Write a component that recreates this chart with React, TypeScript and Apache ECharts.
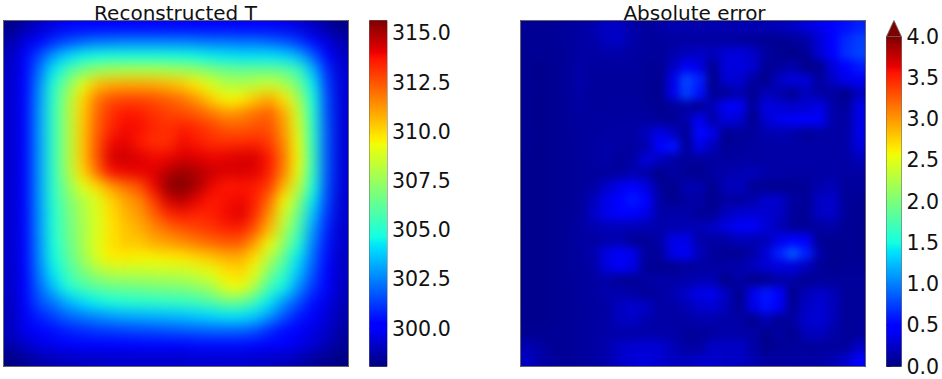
import React, { useEffect, useRef } from "react";
import * as echarts from "echarts";

const titles = ["Reconstructed T", "Absolute error"];
const tempTicks = [300, 302.5, 305, 307.5, 310, 312.5, 315];
const errorTicks = [0, 0.5, 1, 1.5, 2, 2.5, 3, 3.5, 4];
const tempRange = [298.07, 315.66];
const errorRange = [0, 4];

const temperatureRows = [
  [298.2,298.7,299.2,299.6,299.9,300,300,300.1,300.1,300.1,300.2,300.2,300.2,300.1,300.1,300,300,300,299.9,299.8,299.5,299.1,298.6,298.2],
  [298.7,299.5,300.3,301,301.6,302,302.3,302.4,302.5,302.5,302.5,302.5,302.5,302.4,302.3,302.3,302.2,302.2,302,301.7,301.2,300.4,299.5,298.8],
  [299,300,301.5,303,304,304.5,304.7,304.8,304.8,304.8,304.8,304.8,304.7,304.6,304.4,304.3,304.2,304.2,304.2,304,303.4,302,300.3,299.1],
  [299.1,300.2,302.2,304.3,305.8,306.8,307.5,307.8,308,308,308,307.9,307.7,307.4,307,306.6,306.5,306.5,306.5,306.3,305.5,303.5,301,299.3],
  [299.2,300.3,302.6,305,307,309,310.5,310.9,311,311,310.9,310.7,310.3,309.7,308.9,308.1,308,308.3,308.6,308,306.7,304.4,301.3,299.4],
  [299.2,300.3,302.8,305.2,307.7,310,311.8,312.6,312.8,312.8,312.6,312.3,311.9,311.2,310.2,309.5,309.6,310.4,311,309.8,307.8,304.8,301.5,299.4],
  [299.2,300.3,302.9,305.3,307.8,310.2,312.1,313.2,313.7,313.6,313.2,312.9,312.7,312.4,311.9,311.3,311.5,312,312.3,310.9,308.6,305,301.6,299.4],
  [299.2,300.3,302.9,305.3,307.8,310.3,312.2,313.4,313.9,313.8,313.4,313.2,313.6,313.3,312.9,312.5,312.4,312.6,312.6,311.2,308.9,305.2,301.7,299.4],
  [299.2,300.3,302.9,305.3,307.8,310.3,312.4,313.9,314.1,313.6,313.2,313.2,313.9,313.6,313.3,313.2,313.3,313.4,313,311.5,309.2,305.3,301.7,299.4],
  [299.2,300.3,302.9,305.3,307.8,310.3,312.5,314.3,314.5,314.2,313.9,314,314.3,314.2,314,314.1,314.3,314.3,313.6,311.8,309.4,305.4,301.7,299.4],
  [299.2,300.3,302.9,305.3,307.7,310,312,313.8,314,314.1,314.2,314.8,315.2,314.9,314.5,314.3,314.3,314.2,313.5,311.6,309.2,305.3,301.7,299.4],
  [299.2,300.3,302.9,305.2,307.2,309,310,311.2,312,312.6,314,315.4,315.6,315,314,313.6,313.7,313.6,313,310.7,308.4,304.9,301.6,299.4],
  [299.2,300.3,302.9,305.1,306.8,308,308.9,310.1,311,311.6,313,314.4,314.8,314,313.6,313.8,314,313.5,312,309.5,307.3,304.3,301.4,299.3],
  [299.2,300.3,302.8,304.9,306.6,307.8,308.9,309.9,310.7,311.2,312.2,313.3,313.6,313.4,313.5,313.9,314.2,313.2,311.3,308.7,306.4,303.6,301.1,299.3],
  [299.2,300.3,302.8,304.9,306.5,307.7,308.8,309.8,310.4,310.8,311.5,312,312.5,312.8,313.1,313.4,313.5,312.4,310.6,308,305.8,303,300.8,299.2],
  [299.2,300.3,302.7,304.8,306.3,307.7,309,309.8,310.3,310.3,310.8,311,311.3,311.7,312,312.3,312.2,311,309.3,307.2,305,302.5,300.6,299.2],
  [299.2,300.3,302.6,304.6,306.1,307.4,308.8,309.6,309.6,309.5,309.5,309.6,309.7,310,310.3,310.7,310.8,309.8,308,306.2,304.2,302.1,300.4,299.1],
  [299.1,300.2,302.4,304.3,305.6,306.7,307.6,308.1,308.2,308.2,308.3,308.3,308.4,308.7,309.1,309.8,310,309,306.8,305.3,303.6,301.7,300.2,299.1],
  [299.1,300.1,302,303.6,304.9,305.7,306.2,306.5,306.6,306.7,306.8,306.9,307,307.3,307.8,309,309.3,307.8,305.6,304.5,302.8,301.2,300,299],
  [299,300,301.6,302.4,303.4,304.1,304.5,304.8,305,305.1,305.2,305.3,305.4,305.6,306,306.6,306.5,305.5,304.3,302.9,301.7,300.5,299.7,298.9],
  [298.9,299.9,300.8,301.4,302,302.4,302.7,303,303.2,303.3,303.4,303.5,303.6,303.8,304,304.2,304.2,303.8,302.9,301.7,300.7,300,299.4,298.8],
  [299,299.7,300.1,300.5,300.8,301,301.2,301.3,301.4,301.5,301.6,301.7,301.8,301.9,302,302,302,301.7,301,300.4,300,299.6,299.2,298.6],
  [298.7,299.2,299.6,299.8,300,300,300.1,300.2,300.2,300.3,300.3,300.3,300.3,300.4,300.4,300.4,300.4,300.3,300.1,300,299.7,299.3,298.9,298.4],
  [298.1,298.4,298.7,298.9,299,299.1,299.1,299.2,299.2,299.2,299.2,299.2,299.2,299.3,299.3,299.3,299.3,299.2,299.1,299,298.8,298.5,298.3,298.1],
];

const errorRows = [
  [.08,.07,.08,.1,.12,.16,.24,.24,.14,.1,.14,.17,.17,.17,.17,.17,.18,.18,.18,.2,.24,.32,.38,.46,.55,.62],
  [.08,.07,.08,.1,.13,.14,.22,.24,.15,.1,.1,.12,.12,.12,.12,.12,.1,.09,.07,.07,.1,.14,.3,.5,.66,.74],
  [.07,.07,.08,.09,.13,.12,.15,.15,.13,.1,.1,.15,.22,.24,.2,.3,.32,.26,.12,.07,.04,.08,.3,.5,.68,.76],
  [.07,.05,.07,.09,.14,.11,.11,.11,.11,.09,.08,.22,.42,.34,.08,.32,.34,.28,.08,.1,.16,.05,.05,.32,.5,.6],
  [.07,.05,.07,.09,.16,.1,.1,.1,.1,.09,.05,.36,.76,.62,.05,.28,.28,.12,.05,.24,.32,.3,.1,.24,.38,.4],
  [.07,.05,.07,.09,.14,.1,.1,.1,.1,.09,.05,.36,.74,.56,.08,.1,.18,.07,.2,.16,.08,.22,.14,.12,.05,.22],
  [.07,.05,.07,.09,.12,.1,.1,.11,.11,.09,.07,.09,.14,.08,.2,.42,.42,.08,.34,.3,.26,.28,.36,.15,.09,.36],
  [.07,.05,.07,.09,.11,.11,.11,.12,.12,.12,.09,.08,.15,.4,.15,.32,.28,.06,.28,.38,.42,.44,.42,.16,.12,.36],
  [.07,.05,.07,.09,.1,.11,.13,.13,.13,.22,.36,.24,.08,.52,.36,.06,.1,.1,.16,.18,.16,.08,.12,.13,.13,.36],
  [.07,.05,.07,.08,.1,.12,.15,.12,.12,.16,.5,.56,.1,.36,.2,.08,.11,.12,.14,.14,.14,.14,.14,.14,.14,.32],
  [.06,.05,.07,.08,.1,.12,.15,.09,.13,.32,.22,.14,.1,.1,.12,.12,.12,.13,.13,.14,.14,.14,.14,.14,.14,.2],
  [.06,.05,.07,.08,.1,.1,.1,.12,.18,.14,.05,.12,.08,.06,.12,.16,.18,.2,.16,.14,.13,.13,.14,.14,.12,.13],
  [.06,.05,.07,.08,.1,.13,.26,.38,.46,.34,.1,.05,.17,.17,.06,.2,.22,.09,.06,.06,.07,.09,.16,.2,.09,.1],
  [.06,.05,.07,.08,.1,.2,.36,.48,.58,.48,.14,.05,.12,.14,.06,.12,.12,.16,.26,.26,.13,.08,.24,.26,.09,.08],
  [.06,.05,.07,.08,.1,.24,.38,.48,.48,.36,.15,.15,.15,.09,.08,.22,.28,.3,.28,.24,.1,.08,.24,.26,.09,.07],
  [.06,.05,.07,.08,.12,.17,.2,.2,.2,.18,.16,.16,.18,.18,.24,.34,.42,.42,.3,.2,.1,.08,.12,.14,.08,.07],
  [.06,.05,.07,.09,.12,.12,.15,.16,.08,.08,.14,.36,.36,.16,.14,.14,.2,.18,.2,.36,.5,.42,.08,.07,.07,.07],
  [.06,.05,.07,.09,.11,.16,.34,.42,.36,.1,.1,.36,.42,.2,.1,.08,.08,.14,.3,.62,.82,.62,.15,.06,.07,.07],
  [.06,.05,.07,.09,.1,.14,.32,.42,.34,.08,.07,.07,.1,.12,.13,.14,.16,.22,.28,.32,.32,.22,.09,.06,.08,.08],
  [.06,.05,.07,.08,.1,.12,.14,.08,.08,.13,.14,.14,.15,.18,.18,.05,.14,.05,.07,.14,.14,.07,.1,.1,.1,.1],
  [.06,.05,.07,.08,.1,.12,.16,.17,.14,.09,.13,.17,.26,.36,.38,.22,.05,.38,.58,.44,.05,.2,.26,.2,.09,.1],
  [.06,.05,.07,.08,.1,.11,.12,.22,.28,.24,.12,.14,.18,.26,.28,.2,.08,.34,.55,.4,.08,.24,.3,.22,.09,.1],
  [.06,.05,.07,.08,.1,.11,.14,.22,.24,.17,.13,.13,.13,.16,.16,.14,.14,.05,.18,.07,.12,.26,.3,.2,.09,.1],
  [.07,.07,.08,.08,.1,.12,.14,.15,.15,.15,.15,.14,.1,.1,.12,.15,.15,.14,.05,.13,.06,.2,.22,.15,.09,.1],
  [.18,.13,.08,.08,.1,.12,.16,.24,.28,.3,.28,.2,.12,.12,.24,.24,.24,.14,.05,.08,.1,.1,.1,.1,.1,.24],
  [.24,.15,.1,.09,.1,.12,.16,.24,.3,.32,.28,.22,.22,.26,.26,.24,.24,.18,.12,.12,.12,.13,.14,.18,.26,.44],
];

// matplotlib "jet" colour stops
const jetStops: [number, string][] = [
  [0, "#00007f"], [0.11, "#0000ff"], [0.125, "#0000ff"], [0.34, "#00dbff"], [0.35, "#00e5f7"],
  [0.375, "#14ffe2"], [0.64, "#eeff08"], [0.65, "#f7f500"], [0.66, "#ffec00"], [0.89, "#ff1300"],
  [0.91, "#e80000"], [1, "#7f0000"],
];

function hexRgb(h: string) {
  return [1, 3, 5].map((i) => parseInt(h.slice(i, i + 2), 16));
}
function jetAt(t: number) {
  for (let i = 1; i < jetStops.length; i++) {
    if (t <= jetStops[i][0]) {
      const [a, ca] = jetStops[i - 1];
      const [b, cb] = jetStops[i];
      const k = (t - a) / (b - a);
      const p = hexRgb(ca), q = hexRgb(cb);
      return `rgb(${p.map((v, n) => Math.round(v + (q[n] - v) * k)).join(",")})`;
    }
  }
  return jetStops[jetStops.length - 1][1];
}
const jetColors = Array.from({ length: 129 }, (_, i) => jetAt(i / 128));
const frameColor = "#666666";
const fontFamily = "DejaVu Sans";

function heatOption(rows: number[][], range: number[]) {
  const cols = rows[0].map((_, i) => String(i));
  const ys = rows.map((_, i) => String(i));
  return {
    animation: false,
    grid: { left: 0, top: 0, right: 0, bottom: 0 },
    xAxis: { type: "category", data: cols, show: false },
    yAxis: { type: "category", data: ys, show: false, inverse: true },
    visualMap: { show: false, min: range[0], max: range[1], inRange: { color: jetColors }, seriesIndex: 0 },
    series: [{
      type: "heatmap",
      silent: true,
      progressive: 0,
      data: rows.flatMap((r, y) => r.map((v, x) => [x, y, v])),
      itemStyle: { borderWidth: 0 },
    }],
  };
}

function barItem(arrow: boolean) {
  return (_p: any, api: any) => {
    const a = api.coord([0, api.value(0)]);
    const b = api.coord([1, api.value(1)]);
    const children: any[] = [{
      type: "rect",
      shape: { x: a[0], y: b[1], width: b[0] - a[0], height: a[1] - b[1] },
      style: {
        fill: new echarts.graphic.LinearGradient(0, 1, 0, 0, jetStops.map(([offset, color]) => ({ offset, color }))),
      },
    }];
    if (arrow) {
      const tip = api.coord([0.5, api.value(1) * 1.0485]);
      children.push({
        type: "polygon",
        shape: { points: [[a[0], b[1]], [tip[0], tip[1]], [b[0], b[1]]] },
        style: { fill: "#7f0000", stroke: frameColor, lineWidth: 0.8 },
      });
    }
    return { type: "group", children };
  };
}

function overlayOption() {
  const grids = [
    { left: 3.5, top: 20.5, width: 345, height: 346 },
    { left: 520.5, top: 20.5, width: 345, height: 346 },
    { left: 369.5, top: 20.5, width: 17.5, height: 346 },
    { left: 886.5, top: 36.5, width: 17, height: 330 },
  ];
  const hidden = (i: number) => ({ type: "value", show: false, min: 0, max: 1, gridIndex: i });
  const barAxis = (i: number, range: number[], ticks: number[]) => ({
    type: "value",
    gridIndex: i,
    position: "right",
    min: range[0],
    max: range[1],
    splitLine: { show: false },
    axisLine: { show: false },
    axisTick: { show: true, length: 4, customValues: ticks, lineStyle: { color: "#222", width: 1 } },
    axisLabel: {
      show: true,
      customValues: ticks,
      margin: 5,
      color: "#111",
      fontSize: 20.5,
      fontFamily,
      formatter: (v: number) => v.toFixed(1),
      hideOverlap: false,
      showMinLabel: true,
      showMaxLabel: true,
    },
  });
  const titleText = (text: string, x: number) => ({
    type: "text",
    x,
    y: 23,
    silent: true,
    style: { text, textAlign: "center", textVerticalAlign: "bottom", fontSize: 20, fontFamily, fill: "#111" },
  });
  return {
    animation: false,
    graphic: [titleText(titles[0], 175.5), titleText(titles[1], 694.5)],
    grid: grids.map((g) => ({ ...g, show: true, borderColor: frameColor, borderWidth: 1, backgroundColor: "transparent", containLabel: false })),
    xAxis: [hidden(0), hidden(1), hidden(2), hidden(3)],
    yAxis: [hidden(0), hidden(1), barAxis(2, tempRange, tempTicks), barAxis(3, errorRange, errorTicks)],
    series: [
      { type: "custom", xAxisIndex: 2, yAxisIndex: 2, silent: true, clip: false, z: 1, renderItem: barItem(false), data: [tempRange], encode: { y: [0, 1] } },
      { type: "custom", xAxisIndex: 3, yAxisIndex: 3, silent: true, clip: false, z: 1, renderItem: barItem(true), data: [errorRange], encode: { y: [0, 1] } },
    ],
  };
}

function Chart({ option, style }: { option: () => any; style: React.CSSProperties }) {
  const ref = useRef<HTMLDivElement>(null);
  useEffect(() => {
    const chart = echarts.init(ref.current!, undefined, { renderer: "svg" });
    chart.setOption(option());
    return () => chart.dispose();
  }, [option]);
  return <div ref={ref} style={{ position: "absolute", ...style }} />;
}

const tempOption = () => heatOption(temperatureRows, tempRange);
const errorOption = () => heatOption(errorRows, errorRange);

function Smooth({ id, sd }: { id: string; sd: number }) {
  return (
    <filter id={id} x="0" y="0" width="100%" height="100%" colorInterpolationFilters="sRGB">
      <feGaussianBlur stdDeviation={sd} />
      <feComponentTransfer>
        <feFuncA type="table" tableValues="1 1" />
      </feComponentTransfer>
    </filter>
  );
}

export default function App() {
  return (
    <div style={{ position: "absolute", left: 0, top: 0, width: 942, height: 379, overflow: "hidden", background: "#fff" }}>
      <svg width="0" height="0" style={{ position: "absolute" }}>
        <defs>
          <Smooth id="smoothT" sd={6.5} />
          <Smooth id="smoothE" sd={4.2} />
        </defs>
      </svg>
      <Chart option={tempOption} style={{ left: 3, top: 20, width: 346, height: 347, filter: "url(#smoothT)" }} />
      <Chart option={errorOption} style={{ left: 520, top: 20, width: 346, height: 347, filter: "url(#smoothE)" }} />
      <Chart option={overlayOption} style={{ left: 0, top: 0, width: 942, height: 379 }} />
    </div>
  );
}
